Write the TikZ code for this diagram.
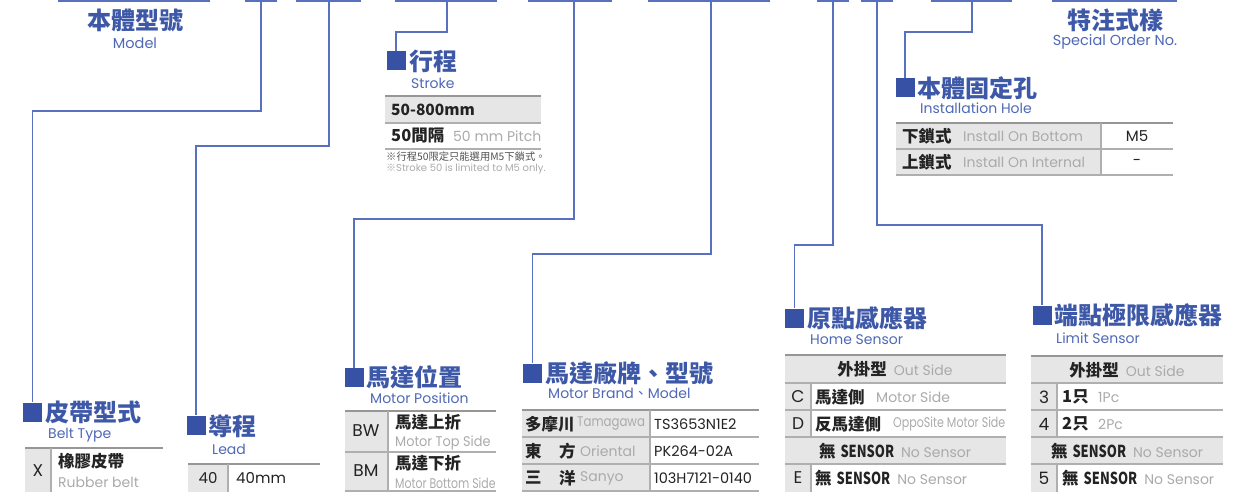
\documentclass[tikz,border=0pt]{standalone}
\usepackage{fontspec}
\setmainfont{Poppins}
\newfontfamily\cjk{Noto Sans CJK TC}
\newfontfamily\en{Poppins}
\definecolor{lineblue}{RGB}{88,112,190}
\definecolor{titleblue}{RGB}{62,88,168}
\definecolor{subblue}{RGB}{78,104,182}
\definecolor{sqblue}{RGB}{55,82,164}
\definecolor{cellgray}{RGB}{230,230,230}
\definecolor{rulegray}{RGB}{175,175,175}
\definecolor{rulegrayD}{RGB}{150,150,150}
\definecolor{txtgray}{RGB}{170,170,170}
\definecolor{txtdark}{RGB}{35,35,35}
\definecolor{notedark}{RGB}{80,80,80}
\newcommand{\fs}[1]{\fontsize{#1}{#1}\selectfont}
\newcommand{\zb}{\cjk\bfseries}
\newcommand{\sensor}{{\zb 無}\hspace{5pt}{\zb\scalebox{0.78}[1]{SENSOR}}}
\tikzset{
  bar/.style={draw=lineblue, line width=2.6pt},
  conn/.style={draw=lineblue, line width=1.6pt},
  sqm/.style={fill=sqblue, draw=none, minimum width=19pt, minimum height=19pt, inner sep=0},
  ttl/.style={anchor=west, inner sep=0, text=titleblue, font=\zb\fs{24}},
  hdr/.style={inner sep=0, text=titleblue, font=\zb\fs{24}},
  sub/.style={anchor=west, inner sep=0, text=subblue, font=\en\fs{14}},
  subc/.style={inner sep=0, text=subblue, font=\en\fs{14.5}},
  zh/.style={anchor=west, inner sep=0, text=txtdark, font=\zb\fs{16.5}},
  eg/.style={anchor=west, inner sep=0, text=txtgray, font=\en\fs{14}},
  ed/.style={inner sep=0, text=txtdark, font=\en\fs{16}},
  edw/.style={anchor=west, inner sep=0, text=txtdark, font=\en\fs{14.5}},
  rl/.style={draw=rulegray, line width=1.3pt},
  rlt/.style={draw=rulegrayD, line width=1.8pt},
}
\begin{document}
\begin{tikzpicture}[x=1pt,y=-1pt]
\useasboundingbox (0,0) rectangle (1250,492);
% ---------- top bars ----------
\draw[bar] (58,1) -- (210,1);
\draw[bar] (245,1) -- (277,1);
\draw[bar] (296,1) -- (361,1);
\draw[bar] (395,1) -- (497,1);
\draw[bar] (528,1) -- (612,1);
\draw[bar] (648,1) -- (770,1);
\draw[bar] (817,1) -- (849,1);
\draw[bar] (861,1) -- (893,1);
\draw[bar] (931,1) -- (1012,1);
\draw[bar] (1052,1) -- (1177,1);
\coordinate (bBelt) at (261,1);
\coordinate (bLead) at (329,1);
\coordinate (bStroke) at (447,1);
\coordinate (bPos) at (574,1);
\coordinate (bBrand) at (711,1);
\coordinate (bHome) at (833,1);
\coordinate (bLim) at (877,1);
\coordinate (bInst) at (972,1);
\coordinate (eBelt) at (261,111);
\coordinate (eLead) at (329,146);
\coordinate (eStroke) at (447,32);
\coordinate (ePos) at (574,219);
\coordinate (eBrand) at (711,254);
\coordinate (eHome) at (833,245);
\coordinate (eLim) at (877,225);
\coordinate (eInst) at (972,32);
% ---------- headers ----------
\node[hdr] (tModel) at (135,20) {本體型號};
\node[subc] (sModel) at (135,43) {Model};
\node[hdr] (tSpec) at (1115,20) {特注式樣};
\node[subc] (sSpec) at (1115,42) {Special Order No.};
% ---------- squares & titles ----------
\node[sqm] (sqStroke) at (396,61) {};
\node[ttl] (tStroke) at (409,61) {行程};
\node[sub] (sStroke) at (411,83) {Stroke};
\node[sqm] (sqInst) at (905,87.5) {};
\node[ttl] (tInst) at (917,88) {本體固定孔};
\node[sub] (sInst) at (920,108) {Installation Hole};
\node[sqm] (sqBelt) at (32.5,412) {};
\node[ttl] (tBelt) at (45,412) {皮帶型式};
\node[sub] (sBelt) at (48,435) {Belt Type};
\node[sqm] (sqLead) at (196,425) {};
\node[ttl] (tLead) at (208,426) {導程};
\node[sub] (sLead) at (212,449) {Lead};
\node[sqm] (sqPos) at (354,377.5) {};
\node[ttl] (tPos) at (366,377) {馬達位置};
\node[sub] (sPos) at (370,398) {Motor Position};
\node[sqm] (sqBrand) at (532.5,373) {};
\node[ttl] (tBrand) at (545,373) {馬達廠牌、型號};
\node[sub] (sBrand) at (548,393) {Motor Brand{\cjk 、}Model};
\node[sqm] (sqHome) at (794.5,318) {};
\node[ttl] (tHome) at (807,318) {原點感應器};
\node[sub] (sHome) at (810,340) {Home Sensor};
\node[sqm] (sqLim) at (1042,315) {};
\node[ttl] (tLim) at (1054,315) {端點極限感應器};
\node[sub] (sLim) at (1056,338) {Limit Sensor};
% ---------- connectors ----------
\draw[conn] (bBelt) -- (eBelt) -| (sqBelt.north);
\draw[conn] (bLead) -- (eLead) -| (sqLead.north);
\draw[conn] (bStroke) -- (eStroke) -| (sqStroke.north);
\draw[conn] (bPos) -- (ePos) -| (sqPos.north);
\draw[conn] (bBrand) -- (eBrand) -| (sqBrand.north);
\draw[conn] (bHome) -- (eHome) -| (sqHome.north);
\draw[conn] (bLim) -- (eLim) -| (sqLim.north);
\draw[conn] (bInst) -- (eInst) -| (sqInst.north);
% ---------- stroke table ----------
\fill[cellgray] (385,96) rectangle (541,123);
\draw[rlt] (385,96) -- (541,96);
\draw[rl] (385,123) -- (541,123);
\draw[rl] (385,149) -- (541,149);
\node[anchor=west, inner sep=0, text=txtdark, font=\zb\fs{15.5}] (st1) at (391,110) {50-800mm};
\node[zh] (st2) at (391,136) {50間隔};
\node[eg] (st2e) at (453,136) {50 mm Pitch};
\node[anchor=west, inner sep=0, text=notedark, font=\cjk\fs{10.3}] (note1) at (386,157) {※行程50限定只能選用M5下鎖式。};
\node[anchor=west, inner sep=0, text=txtgray, font=\en\fs{10}] (note2) at (386,169) {{\cjk ※}Stroke 50 is limited to M5 only.};
% ---------- installation table ----------
\fill[cellgray] (896,123) rectangle (1101,175);
\draw[rlt] (896,123) -- (1173,123);
\draw[rl] (896,149) -- (1173,149);
\draw[rl] (896,175) -- (1173,175);
\draw[rl] (1101,123) -- (1101,175);
\node[zh] (in1) at (902,136) {下鎖式};
\node[eg] (in1e) at (963,136) {Install On Bottom};
\node[ed, font=\en\fs{15}] (in1v) at (1137,136) {M5};
\node[zh] (in2) at (902,162) {上鎖式};
\node[eg] (in2e) at (963,162) {Install On Internal};
\node[ed, font=\en\fs{15}] (in2v) at (1137,162) {-};
% ---------- belt table ----------
\fill[cellgray] (25,448) rectangle (51,492);
\draw[rlt] (25,448) -- (163,448);
\draw[rl] (51,448) -- (51,492);
\node[ed, font=\en\fs{17}] (bX) at (38,471) {X};
\node[zh] (bX1) at (58,461) {橡膠皮帶};
\node[eg, font=\en\fs{14}] (bX2) at (58,482) {Rubber belt};
% ---------- lead table ----------
\fill[cellgray] (188,464) rectangle (228,492);
\draw[rlt] (188,464) -- (320,464);
\draw[rl] (228,464) -- (228,492);
\node[ed, font=\en\fs{15}] (l40) at (208,478) {40};
\node[edw, font=\en\fs{15}] (l40mm) at (236,478) {40mm};
% ---------- motor position table ----------
\fill[cellgray] (345,411) rectangle (388,491);
\draw[rlt] (345,411) -- (496,411);
\draw[rl] (345,452) -- (496,452);
\draw[rl] (345,491) -- (496,491);
\draw[rl] (388,411) -- (388,491);
\node[ed, font=\en\fs{17}] (pBW) at (366,431) {BW};
\node[zh] (pBW1) at (395,422) {馬達上折};
\node[eg] (pBW2) at (395,443) {\scalebox{0.92}[1]{Motor Top Side}};
\node[ed, font=\en\fs{17}] (pBM) at (366,471) {BM};
\node[zh] (pBM1) at (395,463) {馬達下折};
\node[eg] (pBM2) at (395,483) {\scalebox{0.78}[1]{Motor Bottom Side}};
% ---------- motor brand table ----------
\fill[cellgray] (522,410) rectangle (650,491);
\draw[rlt] (522,410) -- (759,410);
\draw[rl] (522,437) -- (759,437);
\draw[rl] (522,464) -- (759,464);
\draw[rl] (522,491) -- (759,491);
\draw[rl] (650,410) -- (650,491);
\node[zh] (br1) at (525,424) {多摩川};
\node[eg] (br1e) at (577,424) {\scalebox{0.84}[1]{Tamagawa}};
\node[zh] (br2a) at (525,451) {東};
\node[zh] (br2b) at (559,451) {方};
\node[eg] (br2e) at (580,451) {Oriental};
\node[zh] (br3a) at (525,478) {三};
\node[zh] (br3b) at (559,478) {洋};
\node[eg] (br3e) at (580,478) {Sanyo};
\node[edw] (bm1) at (654,424) {TS3653N1E2};
\node[edw] (bm2) at (654,451) {PK264-02A};
\node[edw] (bm3) at (654,478) {103H7121-0140};
% ---------- home sensor table ----------
\fill[cellgray] (785,355) rectangle (1006,383);
\fill[cellgray] (785,383) rectangle (811,437);
\fill[cellgray] (785,437) rectangle (1006,464);
\fill[cellgray] (785,464) rectangle (811,492);
\draw[rlt] (785,355) -- (1006,355);
\draw[rl] (785,383) -- (1006,383);
\draw[rl] (785,410) -- (1006,410);
\draw[rl] (785,437) -- (1006,437);
\draw[rl] (785,464) -- (1006,464);
\draw[rl] (811,383) -- (811,437);
\draw[rl] (811,464) -- (811,492);
\node[inner sep=0, font=\fs{16.5}] (hH) at (895,369) {{\zb\color{txtdark}外掛型}\hspace{7pt}{\en\fs{14}\color{txtgray}Out Side}};
\node[ed, font=\en\fs{17}] (hC) at (798,397) {C};
\node[zh] (hC1) at (815,397) {馬達側};
\node[eg] (hC2) at (876,397) {Motor Side};
\node[ed, font=\en\fs{17}] (hD) at (798,424) {D};
\node[zh] (hD1) at (815,424) {反馬達側};
\node[eg] (hD2) at (893,424) {\scalebox{0.79}[1]{OppoSite Motor Side}};
\node[inner sep=0, font=\fs{16.5}] (hN) at (895,451) {{\color{txtdark}\sensor}\hspace{7pt}{\en\fs{14}\color{txtgray}No Sensor}};
\node[ed, font=\en\fs{17}] (hE) at (798,478) {E};
\node[anchor=west, inner sep=0, font=\fs{16.5}] (hE1) at (815,478) {{\color{txtdark}\sensor}\hspace{7pt}{\en\fs{14}\color{txtgray}No Sensor}};
% ---------- limit sensor table ----------
\fill[cellgray] (1031,356) rectangle (1223,383);
\fill[cellgray] (1031,383) rectangle (1057,437);
\fill[cellgray] (1031,437) rectangle (1223,464);
\fill[cellgray] (1031,464) rectangle (1057,492);
\draw[rlt] (1031,356) -- (1223,356);
\draw[rl] (1031,383) -- (1223,383);
\draw[rl] (1031,410) -- (1223,410);
\draw[rl] (1031,437) -- (1223,437);
\draw[rl] (1031,464) -- (1223,464);
\draw[rl] (1057,383) -- (1057,437);
\draw[rl] (1057,464) -- (1057,492);
\node[inner sep=0, font=\fs{16.5}] (mH) at (1127,370) {{\zb\color{txtdark}外掛型}\hspace{7pt}{\en\fs{14}\color{txtgray}Out Side}};
\node[ed, font=\en\fs{17}] (m3) at (1044,397) {3};
\node[zh] (m31) at (1062,397) {1只};
\node[eg] (m32) at (1098,397) {1Pc};
\node[ed, font=\en\fs{17}] (m4) at (1044,424) {4};
\node[zh] (m41) at (1062,424) {2只};
\node[eg] (m42) at (1098,424) {2Pc};
\node[inner sep=0, font=\fs{16.5}] (mN) at (1127,451) {{\color{txtdark}\sensor}\hspace{7pt}{\en\fs{14}\color{txtgray}No Sensor}};
\node[ed, font=\en\fs{17}] (m5) at (1044,478) {5};
\node[anchor=west, inner sep=0, font=\fs{16.5}] (m51) at (1062,478) {{\color{txtdark}\sensor}\hspace{7pt}{\en\fs{14}\color{txtgray}No Sensor}};
\end{tikzpicture}
\end{document}
